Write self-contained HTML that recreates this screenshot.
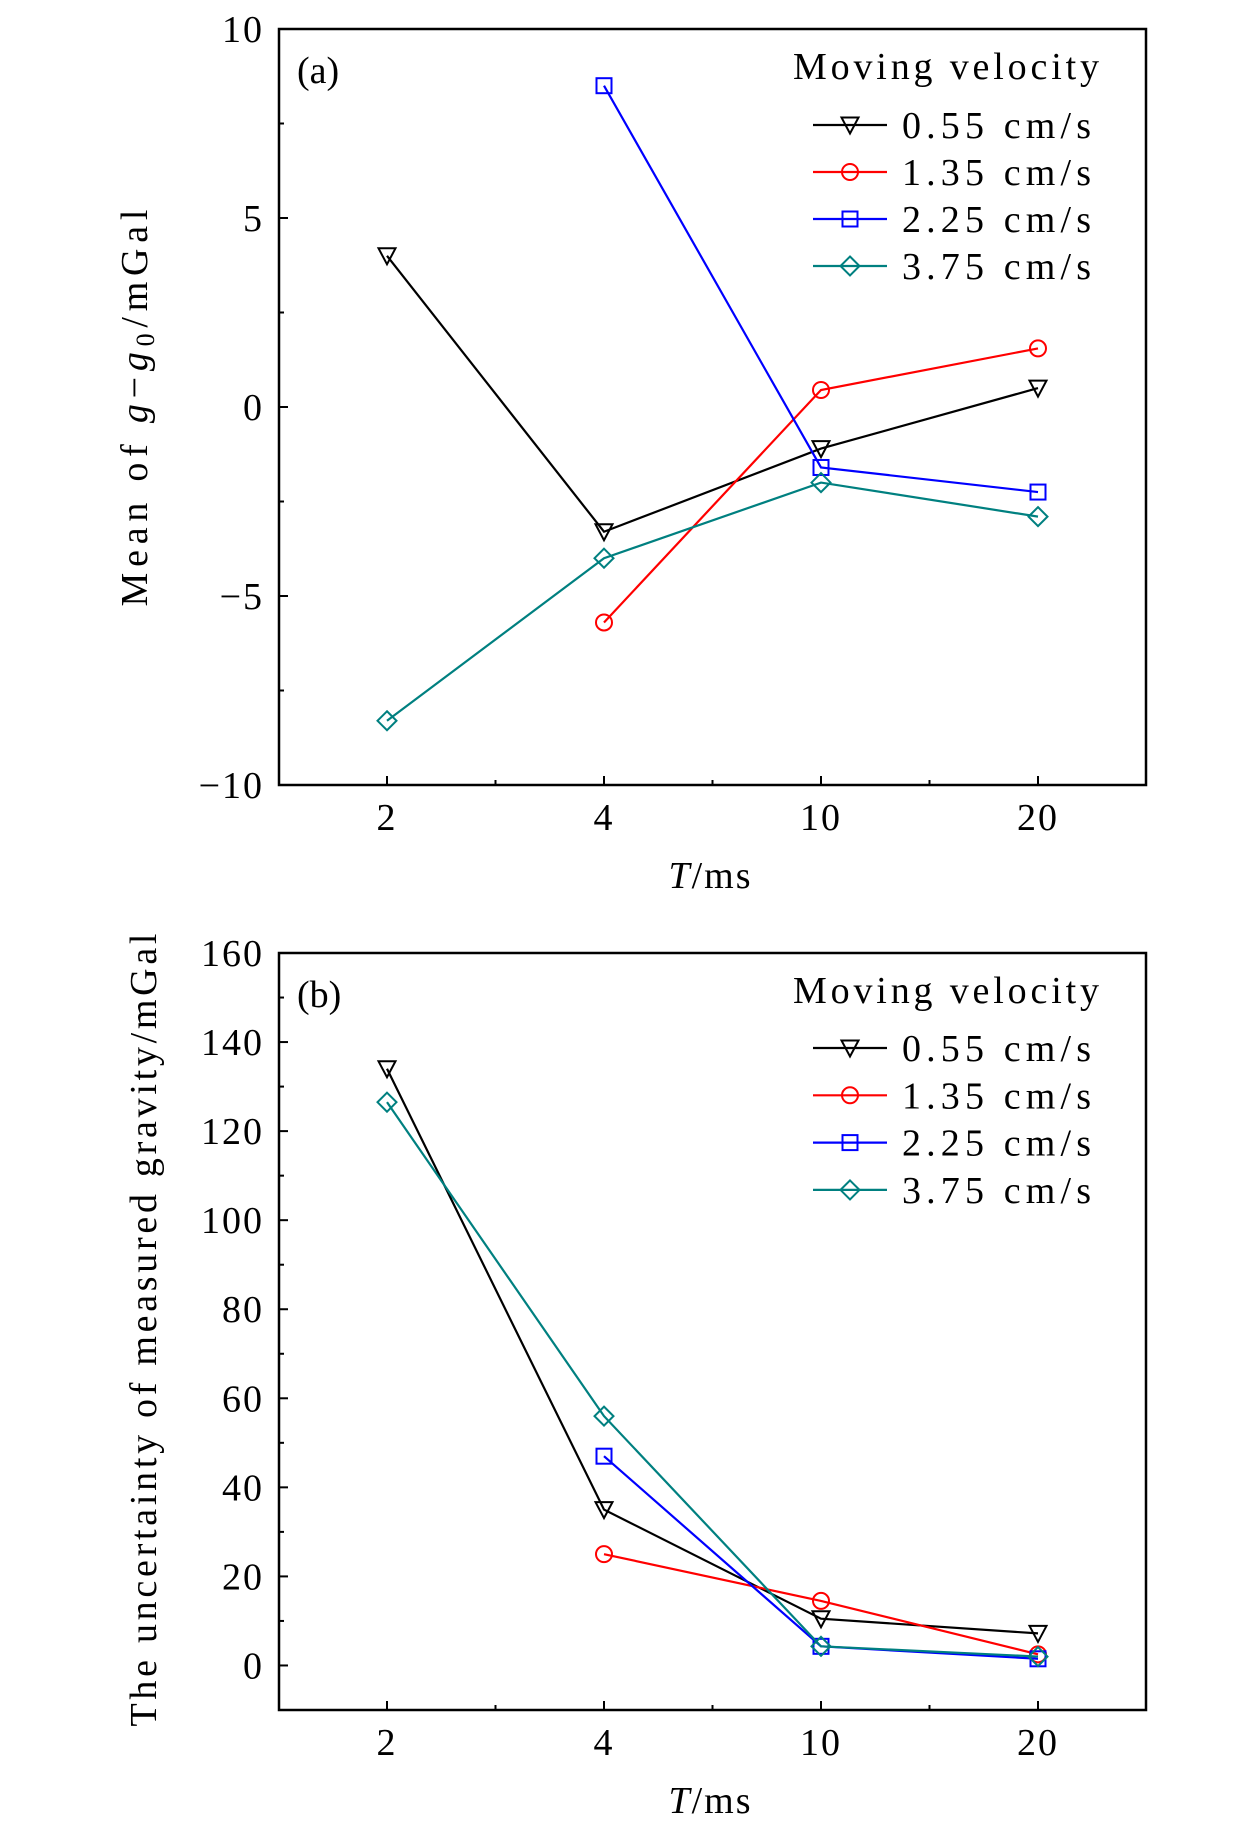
<!DOCTYPE html>
<html><head><meta charset="utf-8"><style>
html,body{margin:0;padding:0;background:#fff;}
svg text{font-family:"Liberation Serif",serif;fill:#000;}
</style></head><body>
<svg id="chart" width="1260" height="1827" viewBox="0 0 1260 1827" xmlns="http://www.w3.org/2000/svg"></svg>
<script>
const categories = ["2","4","10","20"];
const seriesNames = ["0.55 cm/s","1.35 cm/s","2.25 cm/s","3.75 cm/s"];
const meanBlack = [4.0,-3.3,-1.1,0.5];
const meanRed = [null,-5.7,0.45,1.55];
const meanBlue = [null,8.5,-1.6,-2.25];
const meanTeal = [-8.3,-4.0,-2.0,-2.9];
const uncBlack = [134,35,10.5,7.2];
const uncRed = [null,25,14.5,2.5];
const uncBlue = [null,47,4.3,1.5];
const uncTeal = [126.5,56,4.3,2.0];
const ticksA = [-10,-5,0,5,10];
const ticksB = [0,20,40,60,80,100,120,140,160];

const NS="http://www.w3.org/2000/svg";
const svg=document.getElementById('chart');
function mk(tag,attrs,parent){const e=document.createElementNS(NS,tag);for(const k in attrs)e.setAttribute(k,attrs[k]);(parent||svg).appendChild(e);return e;}
const colors=["#000","#f00","#00f","#008080"];
const markers=["tri","circ","sq","dia"];

function marker(g,type,x,y,c){
  let e;
  if(type==="tri") e=mk('polygon',{points:`${x-8.5},${y-7.5} ${x+8.5},${y-7.5} ${x},${y+8.5}`,fill:'none',stroke:c,'stroke-width':2},g);
  else if(type==="circ") e=mk('circle',{cx:x,cy:y,r:8,fill:'none',stroke:c,'stroke-width':2},g);
  else if(type==="sq") e=mk('rect',{x:x-7.5,y:y-7.5,width:15,height:15,fill:'none',stroke:c,'stroke-width':2},g);
  else e=mk('polygon',{points:`${x},${y-9.5} ${x+9.5},${y} ${x},${y+9.5} ${x-9.5},${y}`,fill:'none',stroke:c,'stroke-width':2},g);
  
  
}

function panel(cfg){
  const {L,R,T,B,ymin,ymax,ticks,minorStep,series,label,ylabel,ylabelX,ylabelY,ylabelLen,id,legTitleY,legY0,legDy,labY}=cfg;
  const g=mk('g',{});
  
  
  const xs=i=>387+i*217;
  const ys=v=>B-(v-ymin)/(ymax-ymin)*(B-T);
  const frame=mk('rect',{x:L,y:T,width:R-L,height:B-T,fill:'none',stroke:'#000','stroke-width':2.5},g);
  
  
  for(let v=ymin;v<=ymax+1e-9;v+=minorStep){
    const y=ys(v);const major=ticks.includes(Math.round(v*100)/100);
    mk('line',{x1:L,x2:L+(major?9:5),y1:y,y2:y,stroke:'#000','stroke-width':2},g);
  }
  ticks.forEach(v=>{
    const t=mk('text',{x:L-15,y:ys(v)+13,'text-anchor':'end','font-size':38,'letter-spacing':2},g);
    t.textContent=v<0?'\u2212'+Math.abs(v):String(v);
    
    
  });
  categories.forEach((c,i)=>{
    mk('line',{x1:xs(i),x2:xs(i),y1:B,y2:B-9,stroke:'#000','stroke-width':2},g);
    if(i<3) mk('line',{x1:xs(i)+108.5,x2:xs(i)+108.5,y1:B,y2:B-5,stroke:'#000','stroke-width':2},g);
    const t=mk('text',{x:xs(i),y:B+45,'text-anchor':'middle','font-size':38,'letter-spacing':2},g);
    t.textContent=c;
    
    
  });
  const xl=mk('text',{x:(L+R)/2-2,y:B+103,'text-anchor':'middle','font-size':38,'letter-spacing':2},g);
  xl.innerHTML='<tspan font-style="italic">T</tspan>/ms';
  
  
  const yl=mk('text',{x:0,y:0,'text-anchor':'middle','font-size':38,textLength:ylabelLen,lengthAdjust:'spacing',transform:`translate(${ylabelX},${ylabelY}) rotate(-90)`},g);
  yl.innerHTML=ylabel;
  
  
  const pl=mk('text',{x:297,y:labY,'font-size':38},g);
  pl.textContent=label;
  
  
  series.forEach((arr,si)=>{
    const sg=mk('g',{},g);
    
    
    const pts=[];arr.forEach((v,i)=>{if(v!==null)pts.push([xs(i),ys(v)]);});
    const pl=mk('polyline',{points:pts.map(p=>p.join(',')).join(' '),fill:'none',stroke:colors[si],'stroke-width':2.2},sg);
    
    
    pts.forEach(p=>marker(sg,markers[si],p[0],p[1],colors[si]));
  });
  const lg=mk('g',{},g);
  
  
  const lt=mk('text',{x:793,y:legTitleY+13,'font-size':38,textLength:306,lengthAdjust:'spacing'},lg);
  lt.textContent='Moving velocity';
  
  
  seriesNames.forEach((n,i)=>{
    const y=legY0+i*legDy;
    const eg=mk('g',{},lg);
    
    
    mk('line',{x1:813,x2:887,y1:y,y2:y,stroke:colors[i],'stroke-width':2.2},eg);
    marker(eg,markers[i],850,y,colors[i]);
    const t=mk('text',{x:902,y:y+13,'font-size':38,textLength:189,lengthAdjust:'spacing'},eg);
    t.textContent=n;
  });
}
panel({id:'panel-a',L:279,R:1146,T:29,B:785,ymin:-10,ymax:10,ticks:ticksA,minorStep:2.5,
  series:[meanBlack,meanRed,meanBlue,meanTeal],label:'(a)',labY:83,ylabelX:147,ylabelY:408,ylabelLen:397,
  legTitleY:66,legY0:125,legDy:47,
  ylabel:'Mean of <tspan font-style="italic">g</tspan>\u2212<tspan font-style="italic">g</tspan><tspan font-size="26" dy="7">0</tspan><tspan dy="-7">/mGal</tspan>'});
panel({id:'panel-b',L:279,R:1146,T:953,B:1710,ymin:-10,ymax:160,ticks:ticksB,minorStep:10,
  series:[uncBlack,uncRed,uncBlue,uncTeal],label:'(b)',labY:1007,ylabelX:156,ylabelY:1330,ylabelLen:793,
  legTitleY:990,legY0:1048,legDy:47.3,
  ylabel:'The uncertainty of measured gravity/mGal'});
</script>
</body></html>
